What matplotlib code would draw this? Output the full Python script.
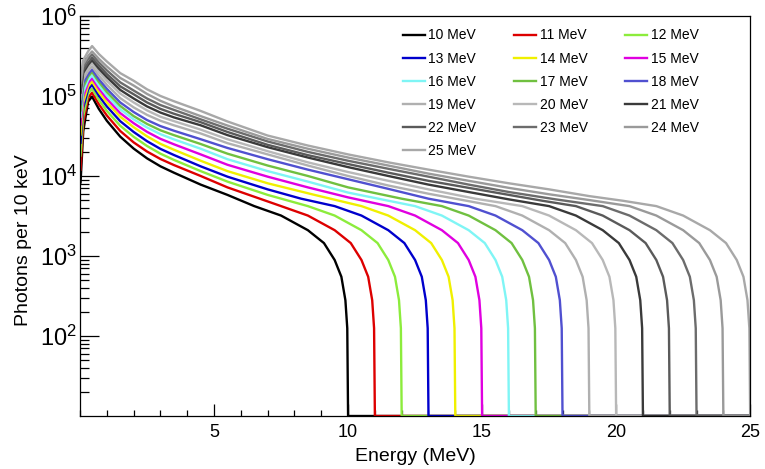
# Bremsstrahlung photon spectra for 10-25 MeV electron beams
import matplotlib
matplotlib.use("Agg")
import matplotlib.pyplot as plt
from matplotlib.ticker import LogLocator, FixedLocator, MultipleLocator, NullFormatter

plt.rcParams['font.family'] = ['Liberation Sans', 'DejaVu Sans']
plt.rcParams['mathtext.default'] = 'regular'

beam_mev = [10, 11, 12, 13, 14, 15, 16, 17, 18, 19, 20, 21, 22, 23, 24, 25]
colors = ['#000000', '#dd0000', '#8cec3c', '#0000cc', '#f0f000', '#e000e0',
          '#7ff5f5', '#70c040', '#5050d0', '#b0b0b0', '#b8b8b8', '#3a3a3a',
          '#5a5a5a', '#6c6c6c', '#9a9a9a', '#a8a8a8']

# photons per 10 keV bin, sampled along each spectrum (energy in MeV)
e10 = [0.02, 0.12, 0.3, 0.45, 0.7, 1, 1.5, 2, 2.5, 3, 3.5, 4.5, 5.5,
       6.5, 7.5, 8.5, 9.1, 9.5, 9.75, 9.9, 9.97, 10, 25]
n10 = [8.3e3, 3.6e4, 8.5e4, 9.8e4, 6.9e4, 4.9e4, 3.1e4, 2.2e4, 1.66e4, 1.32e4, 1.1e4, 7.8e3, 5.8e3,
       4.2e3, 3.2e3, 2.1e3, 1.45e3, 890, 550, 280, 125, 10, 10]

e11 = [0.02, 0.12, 0.3, 0.45, 0.7, 1, 1.5, 2, 2.5, 3, 3.5, 4.5, 5.5, 6.5,
       7.5, 8.5, 9.5, 10.1, 10.5, 10.75, 10.9, 10.97, 11, 25]
n11 = [1.2e4, 4.6e4, 9.5e4, 1.1e5, 7.9e4, 5.7e4, 3.65e4, 2.63e4, 2.02e4, 1.63e4, 1.37e4, 1.0e4, 7.2e3, 5.5e3,
       4.2e3, 3.2e3, 2.1e3, 1.45e3, 890, 550, 280, 125, 10, 10]

e12 = [0.02, 0.12, 0.3, 0.45, 0.7, 1, 1.5, 2, 2.5, 3, 3.5, 4.5, 5.5, 7,
       8.5, 9.5, 10.5, 11.1, 11.5, 11.75, 11.9, 11.97, 12, 25]
n12 = [1.8e4, 5.6e4, 1.07e5, 1.23e5, 8.95e4, 6.5e4, 4.24e4, 3.09e4, 2.37e4, 1.9e4, 1.59e4, 1.15e4, 8.5e3, 5.8e3,
       4.2e3, 3.2e3, 2.1e3, 1.45e3, 890, 550, 280, 125, 10, 10]

e13 = [0.02, 0.12, 0.3, 0.45, 0.7, 1, 1.5, 2, 2.5, 3, 3.5, 4.5, 5.5, 7, 8.25,
       9.5, 10.5, 11.5, 12.1, 12.5, 12.75, 12.9, 12.97, 13, 25]
n13 = [2.6e4, 7.1e4, 1.2e5, 1.38e5, 1.01e5, 7.4e4, 4.84e4, 3.55e4, 2.72e4, 2.18e4, 1.83e4, 1.32e4, 9.8e3, 6.8e3, 5.2e3,
       4.2e3, 3.2e3, 2.1e3, 1.45e3, 890, 550, 280, 125, 10, 10]

e14 = [0.02, 0.12, 0.3, 0.45, 0.7, 1, 1.5, 2, 2.5, 3, 3.5, 4.5, 5.5, 7, 8.75,
       10.5, 11.5, 12.5, 13.1, 13.5, 13.75, 13.9, 13.97, 14, 25]
n14 = [3.3e4, 8.3e4, 1.32e5, 1.51e5, 1.12e5, 8.3e4, 5.5e4, 4.07e4, 3.13e4, 2.52e4, 2.13e4, 1.55e4, 1.15e4, 8.1e3, 5.8e3,
       4.2e3, 3.2e3, 2.1e3, 1.45e3, 890, 550, 280, 125, 10, 10]

e15 = [0.02, 0.12, 0.3, 0.45, 0.7, 1, 1.5, 2, 2.5, 3, 3.5, 4.5, 5.5, 7, 8.5, 10,
       11.5, 12.5, 13.5, 14.1, 14.5, 14.75, 14.9, 14.97, 15, 25]
n15 = [4.4e4, 9.8e4, 1.45e5, 1.66e5, 1.24e5, 9.2e4, 6.1e4, 4.57e4, 3.56e4, 2.91e4, 2.49e4, 1.86e4, 1.38e4, 9.8e3, 7.2e3, 5.4e3,
       4.2e3, 3.2e3, 2.1e3, 1.45e3, 890, 550, 280, 125, 10, 10]

e16 = [0.02, 0.12, 0.3, 0.45, 0.7, 1, 1.5, 2, 2.5, 3, 3.5, 4.5, 5.5, 7, 8.5, 10, 11.25,
       12.5, 13.5, 14.5, 15.1, 15.5, 15.75, 15.9, 15.97, 16, 25]
n16 = [5.5e4, 1.12e5, 1.58e5, 1.82e5, 1.36e5, 1.02e5, 6.8e4, 5.1e4, 4.04e4, 3.33e4, 2.87e4, 2.19e4, 1.62e4, 1.15e4, 8.5e3, 6.2e3, 5.1e3,
       4.2e3, 3.2e3, 2.1e3, 1.45e3, 890, 550, 280, 125, 10, 10]

e17 = [0.02, 0.12, 0.3, 0.45, 0.7, 1, 1.5, 2, 2.5, 3, 3.5, 4.5, 5.5, 7, 8.5, 10, 12,
       13.5, 14.5, 15.5, 16.1, 16.5, 16.75, 16.9, 16.97, 17, 25]
n17 = [6.6e4, 1.29e5, 1.74e5, 2.0e5, 1.5e5, 1.12e5, 7.5e4, 5.6e4, 4.47e4, 3.72e4, 3.24e4, 2.51e4, 1.9e4, 1.35e4, 1.0e4, 7.2e3, 5.2e3,
       4.2e3, 3.2e3, 2.1e3, 1.45e3, 890, 550, 280, 125, 10, 10]

e18 = [0.02, 0.12, 0.3, 0.45, 0.7, 1, 1.5, 2, 2.5, 3, 3.5, 4.5, 5.5, 7, 8.5, 10, 11.5, 13,
       14.5, 15.5, 16.5, 17.1, 17.5, 17.75, 17.9, 17.97, 18, 25]
n18 = [7.9e4, 1.45e5, 1.86e5, 2.14e5, 1.62e5, 1.23e5, 8.3e4, 6.3e4, 5.0e4, 4.2e4, 3.68e4, 2.88e4, 2.24e4, 1.62e4, 1.2e4, 9.1e3, 6.9e3, 5.2e3,
       4.2e3, 3.2e3, 2.1e3, 1.45e3, 890, 550, 280, 125, 10, 10]

e19 = [0.02, 0.12, 0.3, 0.45, 0.7, 1, 1.5, 2, 2.5, 3, 3.5, 4.5, 5.5, 7, 8.5, 10, 11.5, 13,
       15.5, 16.5, 17.5, 18.1, 18.5, 18.75, 18.9, 18.97, 19, 25]
n19 = [9.1e4, 1.62e5, 2.04e5, 2.34e5, 1.8e5, 1.38e5, 9.4e4, 7.2e4, 5.8e4, 4.9e4, 4.3e4, 3.4e4, 2.57e4, 1.86e4, 1.35e4, 1.0e4, 7.6e3, 6.0e3,
       4.2e3, 3.2e3, 2.1e3, 1.45e3, 890, 550, 280, 125, 10, 10]

e20 = [0.02, 0.12, 0.3, 0.45, 0.7, 1, 1.5, 2, 2.5, 3, 3.5, 4.5, 5.5, 7, 8.5, 10, 11.5, 13, 14.75,
       16.5, 17.5, 18.5, 19.1, 19.5, 19.75, 19.9, 19.97, 20, 25]
n20 = [1.0e5, 1.78e5, 2.24e5, 2.57e5, 2.0e5, 1.55e5, 1.07e5, 8.3e4, 6.6e4, 5.5e4, 4.85e4, 3.8e4, 2.88e4, 2.04e4, 1.48e4, 1.12e4, 8.7e3, 6.8e3, 5.2e3,
       4.2e3, 3.2e3, 2.1e3, 1.45e3, 890, 550, 280, 125, 10, 10]

e21 = [0.02, 0.12, 0.3, 0.45, 0.7, 1, 1.5, 2, 2.5, 3, 3.5, 4.5, 5.5, 7, 8.5, 10, 11.5, 13, 14.5, 16,
       17.5, 18.5, 19.5, 20.1, 20.5, 20.75, 20.9, 20.97, 21, 25]
n21 = [1.1e5, 1.95e5, 2.45e5, 2.8e5, 2.2e5, 1.72e5, 1.19e5, 9.3e4, 7.4e4, 6.2e4, 5.4e4, 4.3e4, 3.24e4, 2.29e4, 1.7e4, 1.29e4, 1.0e4, 7.8e3, 6.3e3, 5.1e3,
       4.2e3, 3.2e3, 2.1e3, 1.45e3, 890, 550, 280, 125, 10, 10]

e22 = [0.02, 0.12, 0.3, 0.45, 0.7, 1, 1.5, 2, 2.5, 3, 3.5, 4.5, 5.5, 7, 8.5, 10, 11.5, 13, 14.5, 16, 17.25,
       18.5, 19.5, 20.5, 21.1, 21.5, 21.75, 21.9, 21.97, 22, 25]
n22 = [1.2e5, 2.1e5, 2.6e5, 3.0e5, 2.4e5, 1.88e5, 1.32e5, 1.05e5, 8.3e4, 6.9e4, 6.0e4, 4.7e4, 3.55e4, 2.45e4, 1.82e4, 1.41e4, 1.1e4, 8.7e3, 7.1e3, 5.8e3, 4.9e3,
       4.2e3, 3.2e3, 2.1e3, 1.45e3, 890, 550, 280, 125, 10, 10]

e23 = [0.02, 0.12, 0.3, 0.45, 0.7, 1, 1.5, 2, 2.5, 3, 3.5, 4.5, 5.5, 7, 8.5, 10, 11.5, 13, 14.5, 16, 17.75,
       19.5, 20.5, 21.5, 22.1, 22.5, 22.75, 22.9, 22.97, 23, 25]
n23 = [1.32e5, 2.3e5, 2.9e5, 3.3e5, 2.63e5, 2.09e5, 1.48e5, 1.17e5, 9.3e4, 7.7e4, 6.7e4, 5.1e4, 3.9e4, 2.7e4, 2.0e4, 1.55e4, 1.23e4, 9.8e3, 7.8e3, 6.3e3, 5.1e3,
       4.2e3, 3.2e3, 2.1e3, 1.45e3, 890, 550, 280, 125, 10, 10]

e24 = [0.02, 0.12, 0.3, 0.45, 0.7, 1, 1.5, 2, 2.5, 3, 3.5, 4.5, 5.5, 7, 8.5, 10, 11.5, 13, 14.5, 16, 17.5, 19,
       20.5, 21.5, 22.5, 23.1, 23.5, 23.75, 23.9, 23.97, 24, 25]
n24 = [1.45e5, 2.5e5, 3.16e5, 3.6e5, 2.92e5, 2.34e5, 1.68e5, 1.35e5, 1.06e5, 8.7e4, 7.4e4, 5.6e4, 4.27e4, 2.9e4, 2.19e4, 1.7e4, 1.35e4, 1.07e4, 8.7e3, 7.1e3, 5.9e3, 5.0e3,
       4.2e3, 3.2e3, 2.1e3, 1.45e3, 890, 550, 280, 125, 10, 10]

e25 = [0.02, 0.12, 0.3, 0.45, 0.7, 1, 1.5, 2, 2.5, 3, 3.5, 4.5, 5.5, 7, 8.5, 10, 11.5, 13, 14.5, 16, 17.5, 19, 20.25,
       21.5, 22.5, 23.5, 24.1, 24.5, 24.75, 24.9, 24.97, 25]
n25 = [1.58e5, 2.8e5, 3.6e5, 4.2e5, 3.35e5, 2.7e5, 1.93e5, 1.55e5, 1.21e5, 1.0e5, 8.6e4, 6.5e4, 4.8e4, 3.2e4, 2.4e4, 1.86e4, 1.48e4, 1.2e4, 9.8e3, 8.1e3, 6.8e3, 5.6e3, 4.9e3,
       4.2e3, 3.2e3, 2.1e3, 1.45e3, 890, 550, 280, 125, 10]

energies = [e10, e11, e12, e13, e14, e15, e16, e17, e18, e19, e20, e21, e22, e23, e24, e25]
counts = [n10, n11, n12, n13, n14, n15, n16, n17, n18, n19, n20, n21, n22, n23, n24, n25]

fig = plt.figure(figsize=(7.65, 4.69), dpi=100)
ax = fig.add_axes([0.1046, 0.113, 0.876, 0.853])

handles = {}
for mev, col, e, n in zip(beam_mev, colors, energies, counts):
    ln, = ax.plot(e, n, color=col, lw=1.7, label=f"{mev} MeV")
    handles[mev] = ln

ax.set_yscale('log')
ax.set_xlim(0, 25)
ax.set_ylim(10, 1e6)

ax.xaxis.set_major_locator(FixedLocator([5, 10, 15, 20, 25]))
ax.xaxis.set_minor_locator(MultipleLocator(1))
ax.yaxis.set_major_locator(FixedLocator([1e2, 1e3, 1e4, 1e5, 1e6]))
ax.yaxis.set_minor_locator(LogLocator(base=10, subs=range(2, 10)))
ax.yaxis.set_minor_formatter(NullFormatter())

ax.tick_params(axis='both', which='both', direction='in', top=False, right=False, width=0.9)
ax.tick_params(axis='y', which='major', length=13.5, labelsize=17, pad=2)
ax.tick_params(axis='y', which='minor', length=6.5)
ax.tick_params(axis='x', which='major', length=8.5, pad=6, labelsize=13)
ax.tick_params(axis='x', which='minor', length=4.3)
for sp in ax.spines.values():
    sp.set_linewidth(0.9)

ax.set_xlabel("Energy (MeV)", fontsize=14, labelpad=5)
ax.set_ylabel("Photons per 10 keV", fontsize=14)
ax.yaxis.set_label_coords(-0.072, 0.44)

# legend filled row by row: 10 11 12 / 13 14 15 / ...
order = [10, 13, 16, 19, 22, 25, 11, 14, 17, 20, 23, 12, 15, 18, 21, 24]
ax.legend([handles[m] for m in order], [f"{m} MeV" for m in order],
          ncol=3, frameon=False, fontsize=10, loc='upper right',
          bbox_to_anchor=(0.942, 1.0), handlelength=1.6, handletextpad=0.25,
          columnspacing=2.7, labelspacing=0.66)

fig.savefig("out.png", dpi=100)
